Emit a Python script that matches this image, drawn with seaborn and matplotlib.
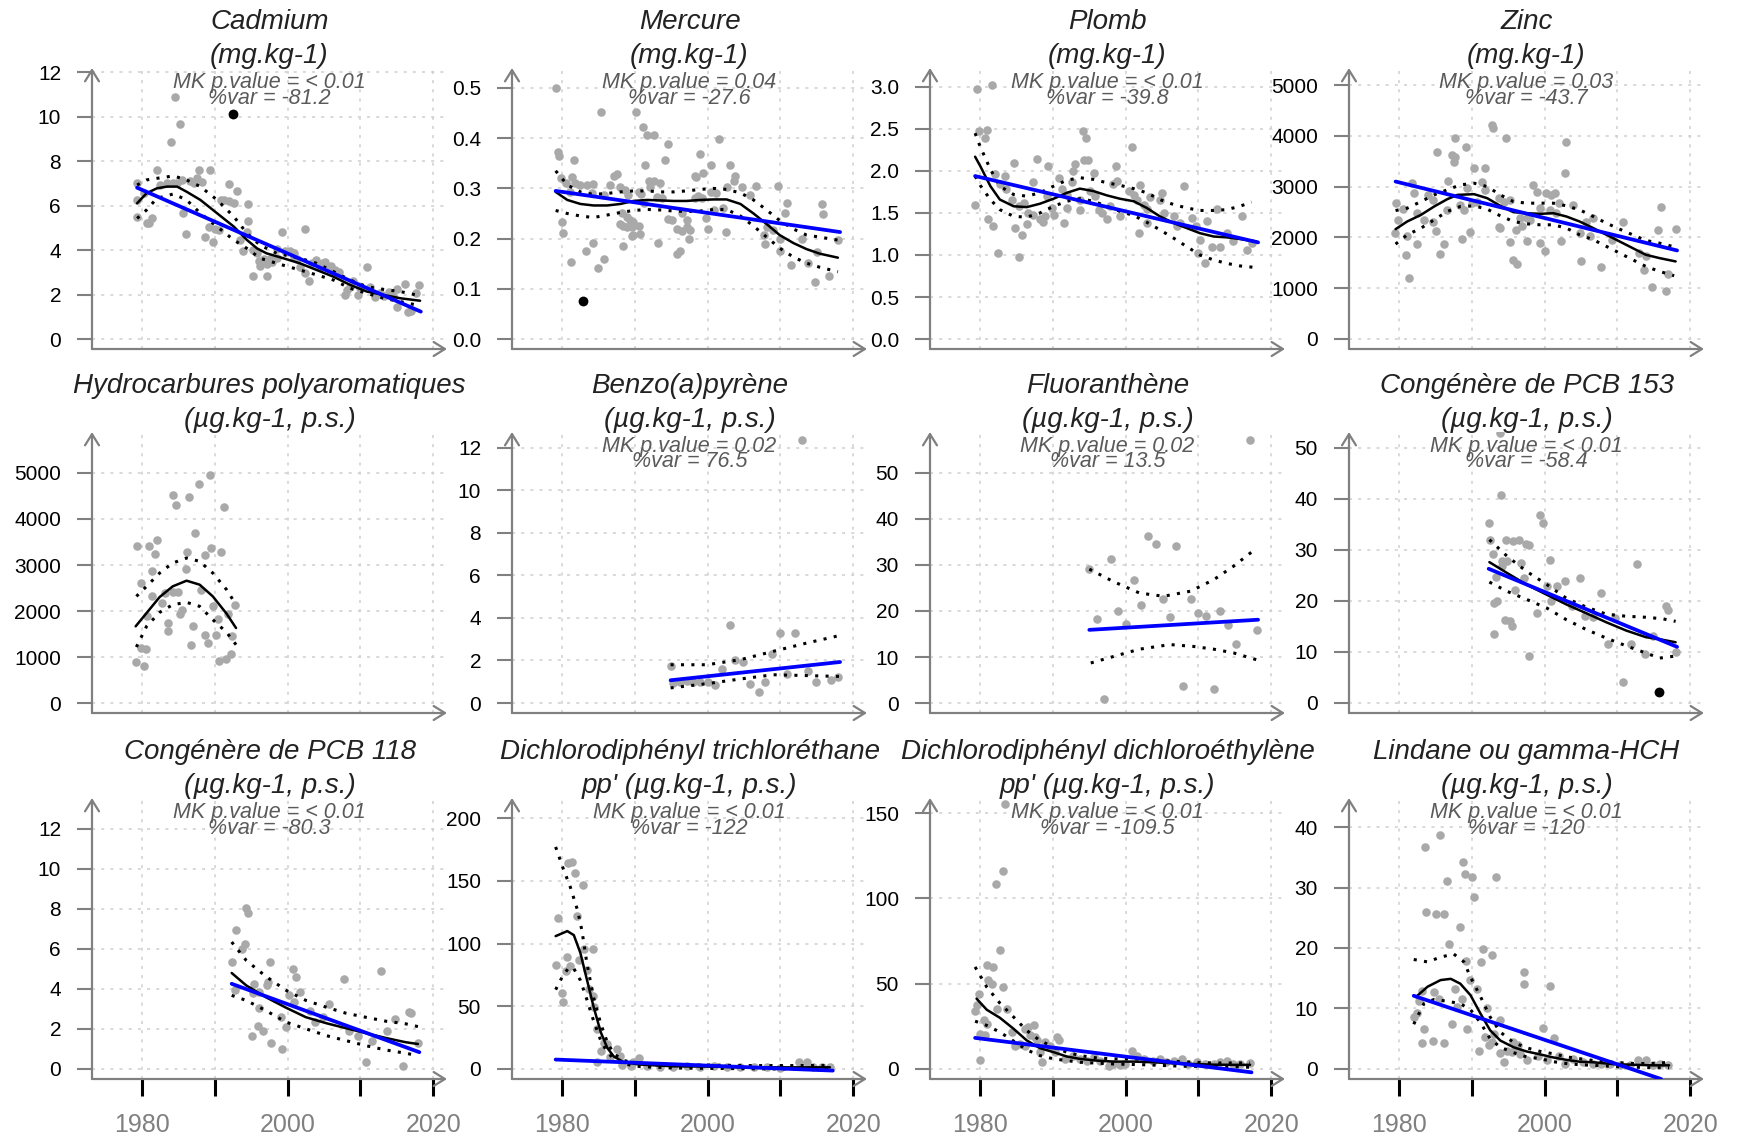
import matplotlib
matplotlib.use("Agg")
import matplotlib.pyplot as plt
import seaborn as sns

sns.set_theme(style="white")
plt.rcParams['font.family'] = ['Liberation Sans', 'DejaVu Sans']

# ---------------- DATA (year, value) ----------------
# Cadmium
cd_pts = [(1984.5,10.86),(1985.2,9.65),(1984.0,8.87),(1982.0,7.58),(1979.3,7.0),(1979.3,6.25),(1979.3,5.47),
          (1980.2,6.55),(1980.6,5.2),(1980.9,5.2),(1981.3,5.42),(1982.5,6.9),(1983.4,7.0),(1984.3,7.0),(1984.8,7.0),
          (1985.5,7.15),(1985.6,5.65),(1986.0,4.7),(1986.6,7.1),(1987.1,7.0),(1987.6,7.25),(1988.2,7.05),(1987.8,7.6),
          (1989.3,7.6),(1988.7,4.6),(1989.2,5.05),(1989.8,4.35),(1990.0,4.95),(1990.6,4.9),(1990.9,6.25),(1991.3,6.25),
          (1991.9,6.2),(1991.9,6.97),(1993.0,6.65),(1992.6,6.1),(1994.5,6.07),(1994.6,5.3),(1994.4,4.8),(1993.5,4.45),
          (1993.9,3.97),(1995.3,4.0),(1995.8,3.85),(1995.2,2.83),(1997.1,2.83),(1996.2,3.3),(1997.1,3.35),(1996.7,3.6),
          (1997.6,3.6),(1998.5,3.65),(1999.2,4.8),(1998.5,4.05),(1999.6,3.95),(2000.3,3.95),(2000.8,3.88),(2002.4,4.93),
          (2001.7,3.25),(2002.4,2.95),(2002.9,2.6),(2001.3,3.6),(2003.3,3.4),(2004.4,3.25),(2005.1,3.45),(2005.8,3.25),
          (2006.5,3.1),(2007.0,3.0),(2008.1,2.2),(2008.6,2.35),(2007.9,1.98),(2009.7,1.98),(2010.0,2.28),(2010.9,3.25),
          (2011.3,2.35),(2012.0,1.9),(2012.7,2.05),(2013.2,1.92),(2013.9,2.1),(2015.0,2.25),(2016.1,2.47),(2015.0,1.45),
          (2016.6,1.23),(2017.0,1.25),(2018.1,2.43),(2017.7,2.05),(1996.0,3.5),(1997.9,3.45),(2000.9,3.7),(2003.9,3.55),
          (2004.8,3.4),(2006.0,3.3),(2009.0,2.6),(2014.5,1.95)]
cd_out = [(1992.5,10.1)]
cd_fit = [(1979.3,6.1),(1980.6,6.55),(1982.0,6.77),(1983.4,6.85),(1984.8,6.85),(1986.1,6.62),(1988.0,6.25),(1990.3,5.65),
          (1992.6,5.05),(1994.4,4.45),(1995.8,4.07),(1997.1,3.85),(1999.4,3.63),(2001.7,3.4),(2004.0,3.1),(2006.3,2.8),
          (2008.6,2.43),(2010.9,2.13),(2013.2,1.98),(2015.5,1.83),(2018.2,1.72)]
cd_hi = [(1979.3,6.92),(1980.6,7.15),(1982.0,7.22),(1984.3,7.33),(1986.1,7.15),(1988.0,6.85),(1990.3,6.25),(1992.6,5.5),
         (1994.4,4.75),(1996.2,4.22),(1998.5,3.85),(2001.7,3.63),(2004.0,3.4),(2006.3,3.03),(2008.6,2.65),(2010.9,2.35),
         (2013.2,2.23),(2015.5,2.13),(2017.7,1.98)]
cd_lo = [(1979.3,5.42),(1980.6,5.8),(1982.0,6.32),(1984.3,6.52),(1986.1,6.25),(1988.0,5.65),(1990.3,5.05),(1992.6,4.45),
         (1994.4,4.07),(1996.2,3.63),(1998.5,3.4),(2001.7,3.1),(2004.0,2.88),(2006.3,2.65),(2008.6,2.28),(2010.9,2.05),
         (2013.2,1.83),(2015.5,1.68),(2017.7,1.53)]
cd_trend = [(1979.3,6.8),(2018.3,1.23)]

# Mercure
hg_pts = [(1979.1,0.50),(1979.4,0.373),(1979.6,0.364),(1981.6,0.356),(1985.3,0.452),(1990.1,0.452),(1991.1,0.422),
          (1991.7,0.407),(1992.6,0.407),(1994.6,0.388),(1994.2,0.356),(1991.4,0.346),(1999.0,0.368),(2001.6,0.398),
          (2000.4,0.346),(1999.3,0.33),(1998.2,0.325),(1998.4,0.322),(2003.0,0.346),(2003.8,0.325),(2003.6,0.315),
          (2004.7,0.303),(2006.7,0.305),(2009.6,0.305),(2002.6,0.303),(1979.8,0.32),(1980.5,0.31),(1981.4,0.322),
          (1981.8,0.31),(1981.1,0.293),(1982.5,0.307),(1983.4,0.307),(1984.3,0.309),(1984.1,0.29),(1985.7,0.287),
          (1987.1,0.325),(1987.5,0.328),(1986.6,0.307),(1988.0,0.302),(1988.7,0.296),(1989.1,0.287),(1990.5,0.292),
          (1990.9,0.289),(1991.9,0.315),(1992.6,0.315),(1992.1,0.302),(1993.5,0.31),(1993.0,0.283),(1993.7,0.28),
          (1991.2,0.27),(1988.2,0.25),(1988.9,0.243),(1989.3,0.237),(1989.8,0.234),(1987.9,0.23),(1988.4,0.225),
          (1988.9,0.224),(1989.6,0.224),(1990.5,0.225),(1990.7,0.21),(1989.6,0.205),(1988.4,0.186),(1989.8,0.207),
          (1994.6,0.24),(1995.1,0.237),(1996.5,0.25),(1997.2,0.237),(1997.1,0.224),(1995.8,0.22),(1996.5,0.216),
          (1997.5,0.218),(1997.4,0.2),(1995.8,0.17),(1996.2,0.176),(1993.2,0.192),(1999.7,0.242),(2000.1,0.22),
          (2000.9,0.257),(2002.1,0.26),(2002.5,0.214),(1998.3,0.28),(1998.7,0.285),(1999.2,0.28),(2001.1,0.29),
          (2000.4,0.293),(2005.8,0.287),(2007.7,0.207),(2007.9,0.19),(2008.1,0.224),(2009.9,0.176),(2010.6,0.25),
          (2010.9,0.27),(2011.5,0.148),(2012.9,0.2),(2013.8,0.151),(2014.7,0.113),(2015.0,0.174),(2015.7,0.269),
          (2015.9,0.249),(2016.7,0.126),(2017.9,0.197),(1981.2,0.154),(1983.3,0.176),(1984.2,0.192),(1984.9,0.142),
          (1985.7,0.159),(1980.0,0.234),(1980.1,0.212),(2009.0,0.217),(2009.9,0.2)]
hg_out = [(1982.8,0.076)]
hg_fit = [(1979.1,0.293),(1980.7,0.277),(1982.5,0.269),(1984.3,0.266),(1986.2,0.266),(1988.0,0.269),(1989.8,0.275),
          (1991.7,0.277),(1993.5,0.276),(1995.3,0.275),(1997.1,0.275),(1999.0,0.277),(2000.8,0.278),(2002.6,0.278),
          (2004.5,0.269),(2006.3,0.25),(2008.1,0.229),(2009.9,0.207),(2011.8,0.191),(2013.6,0.179),(2015.4,0.17),
          (2017.9,0.162)]
hg_hi = [(1979.1,0.335),(1980.7,0.307),(1982.5,0.293),(1984.3,0.288),(1986.2,0.29),(1988.0,0.293),(1989.8,0.295),
         (1991.7,0.295),(1993.5,0.293),(1995.3,0.293),(1997.1,0.295),(1999.0,0.298),(2000.8,0.3),(2002.6,0.298),
         (2004.5,0.291),(2006.3,0.277),(2008.1,0.257),(2009.9,0.236),(2011.8,0.219),(2013.6,0.207),(2015.4,0.203),
         (2017.9,0.197)]
hg_lo = [(1979.1,0.256),(1980.7,0.25),(1982.5,0.245),(1984.3,0.242),(1986.2,0.247),(1988.0,0.252),(1989.8,0.256),
         (1991.7,0.258),(1993.5,0.257),(1995.3,0.255),(1997.1,0.254),(1999.0,0.255),(2000.8,0.258),(2002.6,0.258),
         (2004.5,0.245),(2006.3,0.225),(2008.1,0.203),(2009.9,0.181),(2011.8,0.163),(2013.6,0.151),(2015.4,0.143),
         (2017.9,0.134)]
hg_trend = [(1979.1,0.295),(2018.2,0.213)]

# Plomb
pb_pts = [(1979.5,2.98),(1981.6,3.02),(1979.8,2.48),(1981.0,2.49),(1980.7,2.39),(1979.3,1.59),(1981.1,1.43),(1981.7,1.35),
          (1982.5,1.02),(1982.1,1.96),(1983.4,1.94),(1982.7,1.84),(1983.6,1.78),(1984.4,1.66),(1984.6,2.1),(1984.8,1.32),
          (1985.7,1.24),(1985.4,0.98),(1985.3,1.58),(1986.0,1.62),(1986.6,1.5),(1987.3,1.48),(1986.4,1.37),(1987.3,1.87),
          (1987.8,2.14),(1988.2,1.43),(1988.7,1.39),(1988.9,1.46),(1989.3,2.06),(1989.2,1.7),(1989.9,1.56),(1990.1,1.48),
          (1990.8,1.92),(1991.5,1.38),(1991.2,1.79),(1991.9,1.72),(1991.9,1.56),(1992.7,2.0),(1993.1,2.08),(1992.6,1.87),
          (1993.7,1.54),(1993.7,1.66),(1994.1,2.48),(1994.5,2.39),(1994.3,2.13),(1994.8,2.13),(1995.6,1.98),(1995.1,1.76),
          (1995.8,1.7),(1996.3,1.54),(1996.7,1.5),(1997.4,1.43),(1997.9,1.58),(1998.6,2.06),(1998.8,1.88),(1998.3,1.84),
          (1999.2,1.46),(2000.4,1.76),(2000.9,2.29),(2001.1,1.72),(2001.5,1.66),(2002.0,1.83),(2001.8,1.26),(2002.5,1.6),
          (2002.9,1.55),(2003.4,1.69),(2002.9,1.38),(2005.0,1.74),(2004.7,1.66),(2005.2,1.5),(2006.6,1.47),(2007.1,1.34),
          (2007.5,1.38),(2008.0,1.82),(2009.1,1.44),(2009.6,1.34),(2010.2,1.18),(2010.0,1.02),(2010.9,0.9),(2011.2,1.4),
          (2011.8,1.1),(2013.0,1.1),(2012.6,1.55),(2013.9,1.26),(2014.8,1.17),(2016.0,1.47),(2016.7,1.06),(2017.3,1.14)]
pb_out = []
pb_fit = [(1979.3,2.17),(1980.0,2.06),(1981.4,1.82),(1982.7,1.66),(1984.6,1.58),(1986.4,1.57),(1988.2,1.61),(1990.1,1.67),
          (1991.9,1.74),(1993.7,1.79),(1995.6,1.76),(1997.4,1.71),(1999.2,1.67),(2001.1,1.64),(2002.9,1.56),(2004.7,1.46),
          (2006.6,1.38),(2008.4,1.32),(2010.2,1.26),(2012.1,1.22),(2013.9,1.21),(2015.7,1.19),(2018.0,1.16)]
pb_hi = [(1979.3,2.45),(1980.0,2.29),(1981.4,2.02),(1982.7,1.82),(1984.6,1.72),(1986.4,1.7),(1988.2,1.74),(1990.1,1.82),
         (1991.9,1.89),(1993.7,1.92),(1995.6,1.9),(1997.4,1.86),(1999.2,1.83),(2001.1,1.79),(2002.9,1.74),(2004.7,1.66),
         (2006.6,1.6),(2008.4,1.56),(2010.2,1.53),(2012.1,1.53),(2013.9,1.54),(2015.7,1.58),(2017.3,1.63)]
pb_lo = [(1979.3,1.94),(1980.0,1.83),(1981.4,1.66),(1982.7,1.54),(1984.6,1.46),(1986.4,1.45),(1988.2,1.5),(1990.1,1.58),
         (1991.9,1.64),(1993.7,1.67),(1995.6,1.64),(1997.4,1.58),(1999.2,1.52),(2001.1,1.47),(2002.9,1.39),(2004.7,1.3),
         (2006.6,1.2),(2008.4,1.1),(2010.2,1.0),(2012.1,0.94),(2013.9,0.9),(2015.7,0.87),(2018.0,0.85)]
pb_trend = [(1979.3,1.94),(2018.2,1.15)]

# Zinc
zn_pts = [(1979.5,2674),(1979.8,2333),(1979.4,2084),(1980.9,1645),(1981.4,1199),(1980.5,2556),(1981.8,3067),(1982.0,2883),
          (1981.1,2018),(1982.5,1874),(1982.5,2477),(1983.4,2346),(1983.9,2837),(1984.6,2739),(1984.7,2294),(1985.0,2117),
          (1985.2,3689),(1985.6,1678),(1986.2,1868),(1986.7,3113),(1986.6,2543),(1987.3,3624),(1987.7,3580),(1987.5,3493),
          (1987.7,3965),(1988.4,2641),(1988.9,2543),(1988.6,1966),(1989.2,3775),(1989.8,2097),(1990.3,3362),(1991.8,3375),
          (1989.3,2969),(1990.0,2674),(1990.7,2706),(1991.4,3100),(1991.8,2936),(1992.9,4148),(1992.8,4214),(1994.7,3951),
          (1993.7,2772),(1993.7,2214),(1993.9,2182),(1994.4,2706),(1995.3,2739),(1995.2,1900),(1995.7,1560),(1996.2,1481),
          (1996.0,2149),(1996.6,2379),(1996.9,2215),(1997.5,2379),(1998.0,2346),(1997.5,1920),(1998.4,3034),(1998.9,2903),
          (1999.3,1887),(2000.0,1723),(1999.4,2575),(2000.2,2870),(2000.9,2830),(2001.4,2883),(2001.9,2674),(2000.7,2543),
          (2001.6,2477),(2002.3,1920),(2002.9,3886),(2002.8,3263),(2003.9,2641),(2004.8,2084),(2005.0,1527),(2005.7,2313),
          (2006.7,2379),(2006.2,2018),(2007.7,1409),(2009.2,1953),(2010.8,2313),(2013.0,1691),(2013.9,1625),(2013.7,1363),
          (2014.8,1022),(2016.0,2595),(2015.6,2136),(2016.7,950),(2016.9,1284),(2018.0,2162)]
zn_out = []
zn_fit = [(1979.5,2162),(1981.1,2313),(1983.0,2444),(1984.8,2608),(1986.6,2752),(1988.0,2837),(1990.3,2851),(1992.1,2772),
          (1993.9,2621),(1995.7,2497),(1997.5,2477),(1999.4,2464),(2001.2,2477),(2003.0,2411),(2004.8,2313),(2006.7,2182),
          (2008.5,2051),(2010.3,1920),(2012.1,1789),(2013.9,1658),(2015.8,1592),(2018.0,1527)]
zn_hi = [(1979.5,2529),(1981.1,2575),(1983.0,2706),(1984.8,2837),(1986.6,2936),(1988.4,3034),(1990.3,3067),(1992.1,3001),
         (1993.9,2837),(1995.7,2706),(1997.5,2674),(1999.4,2674),(2001.2,2674),(2003.0,2621),(2004.8,2543),(2006.7,2411),
         (2008.5,2280),(2010.3,2162),(2012.1,2051),(2013.9,1940),(2015.8,1887),(2017.6,1822)]
zn_lo = [(1979.5,1868),(1981.1,2051),(1983.0,2182),(1984.8,2346),(1986.6,2510),(1988.4,2608),(1990.3,2621),(1992.1,2556),
         (1993.9,2425),(1995.7,2313),(1997.5,2267),(1999.4,2248),(2001.2,2248),(2003.0,2182),(2004.8,2051),(2006.7,1953),
         (2008.5,1822),(2010.3,1691),(2012.1,1560),(2013.9,1429),(2015.8,1330),(2017.8,1245)]
zn_trend = [(1979.5,3100),(2018.2,1743)]

# Hydrocarbures polyaromatiques
hap_pts = [(1979.2,884),(1980.2,812),(1979.3,3406),(1980.9,3406),(1982.0,3551),(1981.7,3246),(1979.8,2609),(1981.3,2862),
           (1981.4,2333),(1980.6,1884),(1979.9,1196),(1980.5,1174),(1982.7,2174),(1983.2,2391),(1983.6,1739),(1983.5,1558),
           (1984.2,4529),(1984.7,4311),(1984.2,2413),(1984.9,2413),(1985.2,1935),(1985.5,2029),(1986.0,2913),(1986.2,3275),
           (1986.5,4478),(1986.7,1254),(1987.0,1667),(1987.2,3696),(1987.8,4768),(1988.1,2464),(1988.6,3225),(1988.7,1485),
           (1989.0,1304),(1989.3,4964),(1989.4,3369),(1989.7,2116),(1990.2,1485),(1990.4,1826),(1990.9,3275),(1991.2,4261),
           (1990.6,906),(1991.5,957),(1991.8,1942),(1992.3,1449),(1992.2,1065),(1992.8,2138)]
hap_out = []
hap_fit = [(1979.1,1667),(1980.6,1956),(1982.4,2304),(1984.2,2536),(1986.1,2659),(1987.9,2572),(1989.7,2319),(1991.6,1942),
           (1992.9,1630)]
hap_hi = [(1979.2,2319),(1980.6,2536),(1982.4,2826),(1984.2,3043),(1986.1,3152),(1987.9,3079),(1989.7,2826),(1991.6,2464),
          (1992.9,2138)]
hap_lo = [(1979.2,1217),(1980.6,1667),(1982.4,1971),(1984.2,2138),(1986.1,2188),(1987.9,2101),(1989.7,1812),(1991.6,1536),
          (1992.9,1268)]
hap_trend = []

# Benzo(a)pyrene
bap_pts = [(2013.0,12.36),(2003.0,3.69),(1994.9,1.76),(1995.3,0.94),(1996.2,1.0),(1997.1,1.02),(1998.0,1.0),(1999.0,0.98),
           (2000.1,0.97),(2001.0,0.86),(2001.9,1.6),(2003.8,2.04),(2004.9,1.91),(2005.8,0.91),(2007.0,0.5),(2007.9,0.97),
           (2008.9,2.3),(2009.9,3.29),(2012.0,3.29),(2010.9,1.38),(2013.8,1.49),(2014.9,0.97),(2016.9,1.07),(2017.9,1.21)]
bap_out = []
bap_fit = []
bap_hi = [(1994.9,1.8),(1999.9,1.8),(2004.5,2.04),(2009.0,2.43),(2013.6,2.82),(2018.2,3.18)]
bap_lo = [(1994.9,0.71),(1999.9,0.91),(2004.5,1.13),(2009.0,1.33),(2013.6,1.29),(2018.2,1.25)]
bap_trend = [(1994.9,1.07),(2018.2,1.93)]

# Fluoranthene
flu_pts = [(2017.1,57.1),(1995.0,29.1),(1996.1,18.3),(1997.0,0.9),(1998.0,31.3),(1998.9,20.1),(2000.0,17.2),(2001.1,26.8),
           (2002.1,21.4),(2003.0,36.4),(2004.1,34.6),(2005.1,22.7),(2006.1,18.8),(2006.9,34.1),(2007.9,3.6),(2009.0,22.5),
           (2010.0,19.6),(2011.1,19.0),(2012.1,3.1),(2013.0,20.1),(2014.1,17.0),(2015.1,12.8),(2018.0,15.8)]
flu_out = []
flu_fit = []
flu_hi = [(1995.0,29.1),(1998.3,26.4),(2001.9,23.9),(2005.2,23.2),(2008.9,24.3),(2012.1,26.8),(2014.8,29.7),(2017.3,32.8)]
flu_lo = [(1995.2,8.7),(1998.3,10.1),(2001.9,11.7),(2006.1,12.7),(2009.3,12.3),(2012.1,11.7),(2014.8,10.9),(2018.0,9.4)]
flu_trend = [(1995.0,15.9),(2018.2,18.1)]

# PCB 153
p153_pts = [(1993.9,52.9),(1994.0,40.7),(1992.3,35.3),(1992.5,32.0),(1994.7,32.0),(1995.7,31.8),(1996.5,31.9),(1997.4,31.2),
            (1997.8,31.0),(1999.3,36.9),(1999.8,35.2),(1992.9,29.1),(1994.2,27.8),(1994.8,27.8),(1993.3,24.7),(1994.2,26.8),
            (1996.7,27.5),(1995.9,22.2),(1997.1,24.5),(2000.7,28.0),(1993.0,19.6),(1993.4,19.9),(1993.0,13.5),(1994.6,16.3),
            (1995.3,16.1),(1995.5,15.0),(1997.8,9.3),(1999.0,17.6),(2000.3,23.0),(2001.7,23.0),(2000.8,19.9),(2002.8,23.9),
            (2004.8,24.4),(2003.7,19.0),(2005.6,17.1),(2006.7,16.9),(2007.7,21.6),(2008.7,11.6),(2009.6,16.7),(2010.7,4.1),
            (2011.8,11.6),(2012.7,27.3),(2013.8,9.6),(2014.9,13.2),(2016.7,19.1),(2017.0,18.2),(2018.0,9.9)]
p153_out = [(2015.7,2.1)]
p153_fit = [(1992.4,27.6),(1994.8,25.5),(1997.5,23.2),(2000.3,21.2),(2003.0,19.3),(2005.7,17.6),(2008.5,15.8),(2011.2,14.2),
            (2013.9,12.9),(2015.8,12.5),(2018.0,11.9)]
p153_hi = [(1992.4,32.0),(1994.8,28.8),(1997.5,25.8),(2000.3,23.2),(2003.0,20.5),(2005.7,18.8),(2008.5,17.4),(2011.2,17.0),
           (2013.9,16.8),(2016.2,16.5),(2018.0,16.0)]
p153_lo = [(1992.4,23.7),(1994.8,21.9),(1997.5,20.3),(2000.3,18.6),(2003.0,16.3),(2005.7,14.4),(2008.5,12.7),(2011.2,11.2),
           (2013.9,9.8),(2015.8,8.8),(2018.0,9.2)]
p153_trend = [(1992.3,26.3),(2018.2,11.0)]

# PCB 118
p118_pts = [(1994.3,8.06),(1994.5,7.8),(1992.9,6.94),(1994.1,6.27),(1993.7,6.0),(1992.3,5.35),(1997.5,5.35),(2000.7,5.01),
            (2001.2,4.6),(1995.4,4.26),(1997.1,4.2),(1997.3,4.35),(1995.2,3.8),(1996.1,3.85),(1992.7,3.93),(1996.1,3.06),
            (1995.9,2.14),(1996.6,1.92),(1995.1,1.67),(1997.7,1.3),(1999.1,2.59),(1999.2,1.0),(1999.7,2.09),(2000.2,3.68),
            (2000.9,3.34),(2001.7,3.84),(2003.0,2.92),(2003.8,2.34),(2004.8,2.59),(2005.7,3.23),(2007.8,4.51),(2008.4,1.92),
            (2009.6,1.67),(2010.7,0.37),(2011.6,1.42),(2012.8,4.9),(2013.7,1.92),(2014.7,2.5),(2015.8,0.17),(2016.7,2.84),
            (2017.0,2.79),(2017.9,1.3)]
p118_out = []
p118_fit = [(1992.3,4.8),(1994.3,4.18),(1997.0,3.59),(1999.8,3.06),(2002.5,2.59),(2005.3,2.29),(2008.0,2.04),(2010.7,1.8),
            (2013.5,1.55),(2016.2,1.34),(2017.9,1.25)]
p118_hi = [(1992.3,6.35),(1994.3,5.43),(1997.0,4.63),(1999.8,3.93),(2002.5,3.43),(2005.3,3.09),(2008.0,2.79),(2010.7,2.59),
           (2013.5,2.39),(2016.2,2.26),(2017.9,2.12)]
p118_lo = [(1992.3,3.68),(1994.3,3.43),(1997.0,2.92),(1999.8,2.34),(2002.5,2.01),(2005.3,1.67),(2008.0,1.42),(2010.7,1.17),
           (2013.5,0.95),(2016.2,0.79),(2017.9,0.67)]
p118_trend = [(1992.3,4.26),(2018.1,0.84)]

# DDT
ddt_pts = [(1979.1,83.2),(1979.4,120),(1980.0,60.5),(1980.1,53.3),(1980.6,89.3),(1980.8,164),(1981.4,165),(1981.1,81.9),
           (1980.5,78),(1981.8,156.5),(1982.1,122),(1982.8,146.7),(1982.3,86.7),(1983.0,96),(1984.2,96),(1983.4,78.7),
           (1983.7,64),(1984.3,58.1),(1984.4,49.3),(1984.8,32),(1985.7,20.8),(1986.2,20),(1985.3,14.7),(1984.8,5.9),
           (1986.6,9.3),(1987.5,16),(1988.0,10.7),(1988.2,3.2),(1989.4,2.7),(1990.6,8.8),(1989.8,5.3),(1991.7,2.7),
           (1993.5,1.3),(1995.3,1.3),(1997.1,2.7),(1999.0,1.9),(2000.8,2.7),(2002.6,1.3),(2004.5,1.3),(2006.3,1.3),
           (2008.1,1.3),(2009.9,0.8),(2012.5,5.9),(2013.6,5.9),(2014.5,1.9),(2015.7,1.9),(2016.8,1.3)]
ddt_out = []
ddt_fit = [(1979.1,105.9),(1980.7,109.9),(1981.6,106.7),(1982.5,92.5),(1983.4,71.2),(1984.3,49.9),(1985.3,29.3),(1986.2,16.8),
           (1987.1,9.9),(1988.5,5.3),(1990.7,3.5),(1995.3,2.1),(1999.9,1.9),(2004.5,1.3),(2009.0,1.3),(2013.6,1.3),(2016.8,1.3)]
ddt_hi = [(1979.1,177),(1980.2,158.7),(1981.1,145.3),(1982.1,126.7),(1982.7,110.7),(1983.4,84),(1984.3,57.3),(1985.3,36),
          (1986.2,21.3),(1987.1,12),(1988.5,6.7),(1990.7,4),(1995.3,2.7),(1999.9,3.2),(2004.5,2.7),(2009.0,2.7),
          (2013.6,2.7),(2016.8,2.7)]
ddt_lo = [(1979.1,63.2),(1980.0,73.3),(1980.9,80.8),(1981.6,80),(1982.5,70.7),(1983.4,55.2),(1984.3,38.7),(1985.3,22.7),
          (1986.2,13.3),(1987.1,8),(1988.5,4),(1990.7,1.9),(1995.3,0.8),(1999.9,0.5),(2009.0,0.0),(2016.8,0.0)]
ddt_trend = [(1979.1,7.5),(2017.2,-1.3)]

# DDE
dde_pts = [(1983.4,155.5),(1983.1,116.3),(1982.2,108.4),(1982.7,69.6),(1981.0,60.8),(1981.7,59.8),(1981.1,52.4),(1981.6,50),
           (1983.2,48),(1979.8,44.1),(1979.3,33.7),(1979.5,37.3),(1982.3,35.3),(1983.7,35.3),(1980.5,28.4),(1980.9,26.5),
           (1980.0,20.2),(1980.7,19.6),(1980.0,5.3),(1984.4,21.6),(1984.8,13.7),(1985.5,14.7),(1986.2,13.7),(1986.2,23.5),
           (1986.6,24.5),(1987.4,25.5),(1986.9,19.6),(1987.6,18.6),(1987.8,16.7),(1988.2,9.8),(1988.5,3.9),(1988.9,15.7),
           (1989.6,13.7),(1990.5,18.6),(1990.8,16.7),(1990.3,9.8),(1991.7,5.9),(1992.8,7.8),(1993.7,5.9),(1994.7,4.9),
           (1995.6,6.9),(1996.5,4.9),(1997.7,2.0),(1998.3,2.9),(1999.2,2.4),(1999.9,2.9),(2000.8,10.4),(2001.5,7.8),
           (2002.5,5.9),(2003.8,4.9),(2004.7,5.9),(2005.6,3.9),(2006.6,4.9),(2007.7,5.9),(2008.6,2.9),(2009.8,3.9),
           (2010.9,2.9),(2012.1,2.9),(2013.0,3.9),(2013.9,4.9),(2014.8,2.9),(2015.7,2.9),(2017.1,3.3)]
dde_out = []
dde_fit = [(1979.5,41.2),(1980.9,34.7),(1982.7,30),(1984.6,23.5),(1986.4,16.7),(1988.2,12.2),(1990.1,9.8),(1991.9,7.3),
           (1993.7,5.9),(1996.0,4.9),(1998.3,4.3),(2001.1,4.3),(2003.8,3.9),(2006.6,3.3),(2009.3,2.9),(2012.1,2.5),
           (2014.8,2.4),(2017.1,2.4)]
dde_hi = [(1979.3,59.8),(1980.9,48),(1982.7,38.6),(1984.6,30.4),(1986.4,22.5),(1988.2,16.7),(1990.1,12.7),(1991.9,9.8),
          (1993.7,7.8),(1996.0,6.5),(1998.3,5.9),(2001.1,5.9),(2003.8,5.3),(2006.6,4.5),(2009.3,3.9),(2012.1,3.5),
          (2014.8,3.5),(2017.1,3.5)]
dde_lo = [(1979.3,28),(1980.9,25.5),(1982.7,21.6),(1984.6,16.3),(1986.4,11.2),(1988.2,7.8),(1990.1,5.9),(1991.9,4.9),
          (1993.7,3.9),(1998.3,2.9),(2002.9,2.4),(2007.5,1.6),(2012.1,1.4),(2017.1,1.0)]
dde_trend = [(1979.3,18.2),(2017.3,-2.0)]

# Lindane
lin_pts = [(1983.6,36.7),(1985.6,38.6),(1983.7,26),(1985.1,25.6),(1986.2,25.6),(1986.6,31),(1988.8,34.2),(1989.0,32.3),
           (1990.0,31.8),(1990.3,28.5),(1993.3,31.8),(1988.3,23.4),(1986.8,20.6),(1991.5,19.9),(1992.8,18.9),(1989.2,17.9),
           (1991.3,17.7),(1997.1,16.0),(1997.2,14.0),(2000.7,13.7),(1982.0,8.6),(1982.5,9.2),(1982.7,11.3),(1983.2,12.9),
           (1983.4,6.6),(1983.1,4.3),(1984.6,4.7),(1986.2,4.3),(1984.8,12.7),(1985.5,11.6),(1987.3,7.5),(1987.7,13.3),
           (1988.0,10.3),(1988.7,11.6),(1989.3,6.6),(1989.8,14.7),(1990.7,13.3),(1991.0,2.9),(1991.8,5.3),(1992.1,10.0),
           (1992.3,3.9),(1992.8,4.4),(1993.0,5.8),(1993.9,8.1),(1993.9,2.6),(1994.4,1.1),(1994.8,3.0),(1995.5,2.8),
           (1996.2,3.1),(1996.6,2.5),(1995.7,4.4),(1996.4,3.9),(1997.5,1.5),(1999.1,2.2),(1999.7,6.7),(2000.3,1.4),
           (2001.3,5.1),(2001.9,2.2),(2002.8,0.8),(2003.9,1.7),(2005.3,1.1),(2006.7,0.8),(2007.8,0.8),(2009.0,0.9),
           (2010.3,0.7),(2011.7,0.7),(2012.8,1.5),(2013.9,1.5),(2014.9,0.7),(2015.8,0.8),(2016.9,0.7)]
lin_out = []
lin_fit = [(1982.3,11.9),(1983.9,13.6),(1985.7,14.7),(1987.1,14.9),(1988.4,14.1),(1989.8,12.2),(1991.2,9.1),(1992.5,6.4),
           (1993.9,4.7),(1995.7,3.6),(1997.5,2.9),(1999.4,2.4),(2001.2,1.9),(2003.0,1.5),(2004.8,1.2),(2006.7,1.1),
           (2009.4,0.8),(2012.1,0.7),(2014.9,0.6),(2017.1,0.6)]
lin_hi = [(1982.0,18.1),(1983.9,17.7),(1985.7,18.5),(1987.5,19.0),(1988.9,17.7),(1989.8,15.2),(1991.2,11.9),(1992.5,8.6),
          (1993.9,6.1),(1995.7,4.4),(1997.5,3.5),(1999.4,2.9),(2001.2,2.5),(2003.0,2.0),(2004.8,1.7),(2006.7,1.4),
          (2009.4,1.1),(2012.1,0.9),(2014.9,0.9),(2017.1,1.1)]
lin_lo = [(1982.0,7.4),(1983.4,10.8),(1984.8,11.5),(1986.6,11.2),(1988.4,10.8),(1989.8,9.8),(1991.2,7.6),(1992.5,5.0),
          (1993.9,3.6),(1995.7,2.7),(1997.5,2.0),(1999.4,1.7),(2001.2,1.2),(2003.0,0.9),(2004.8,0.7),(2006.7,0.6),
          (2009.4,0.4),(2012.1,0.3),(2014.9,0.2),(2017.1,0.2)]
lin_trend = [(1982.0,12.1),(2016.0,-1.66)]

titles = [("Cadmium", "(mg.kg-1)"), ("Mercure", "(mg.kg-1)"), ("Plomb", "(mg.kg-1)"), ("Zinc", "(mg.kg-1)"),
          ("Hydrocarbures polyaromatiques", "(µg.kg-1, p.s.)"), ("Benzo(a)pyrène", "(µg.kg-1, p.s.)"),
          ("Fluoranthène", "(µg.kg-1, p.s.)"), ("Congénère de PCB 153", "(µg.kg-1, p.s.)"),
          ("Congénère de PCB 118", "(µg.kg-1, p.s.)"), ("Dichlorodiphényl trichloréthane", "pp' (µg.kg-1, p.s.)"),
          ("Dichlorodiphényl dichloroéthylène", "pp' (µg.kg-1, p.s.)"), ("Lindane ou gamma-HCH", "(µg.kg-1, p.s.)")]
mk_pvalues = ["< 0.01", "0.04", "< 0.01", "0.03", None, "0.02", "0.02", "< 0.01", "< 0.01", "< 0.01", "< 0.01", "< 0.01"]
mk_var = ["-81.2", "-27.6", "-39.8", "-43.7", None, "76.5", "13.5", "-58.4", "-80.3", "-122", "-109.5", "-120"]
yticks = [[0, 2, 4, 6, 8, 10, 12], [0.0, 0.1, 0.2, 0.3, 0.4, 0.5], [0.0, 0.5, 1.0, 1.5, 2.0, 2.5, 3.0],
          [0, 1000, 2000, 3000, 4000, 5000], [0, 1000, 2000, 3000, 4000, 5000], [0, 2, 4, 6, 8, 10, 12],
          [0, 10, 20, 30, 40, 50], [0, 10, 20, 30, 40, 50], [0, 2, 4, 6, 8, 10, 12],
          [0, 50, 100, 150, 200], [0, 50, 100, 150], [0, 10, 20, 30, 40]]
year_ticks = [1980, 1990, 2000, 2010, 2020]
year_labels = ["1980", "", "2000", "", "2020"]

series = [(cd_pts, cd_out, cd_fit, cd_hi, cd_lo, cd_trend), (hg_pts, hg_out, hg_fit, hg_hi, hg_lo, hg_trend),
          (pb_pts, pb_out, pb_fit, pb_hi, pb_lo, pb_trend), (zn_pts, zn_out, zn_fit, zn_hi, zn_lo, zn_trend),
          (hap_pts, hap_out, hap_fit, hap_hi, hap_lo, hap_trend), (bap_pts, bap_out, bap_fit, bap_hi, bap_lo, bap_trend),
          (flu_pts, flu_out, flu_fit, flu_hi, flu_lo, flu_trend),
          (p153_pts, p153_out, p153_fit, p153_hi, p153_lo, p153_trend),
          (p118_pts, p118_out, p118_fit, p118_hi, p118_lo, p118_trend),
          (ddt_pts, ddt_out, ddt_fit, ddt_hi, ddt_lo, ddt_trend), (dde_pts, dde_out, dde_fit, dde_hi, dde_lo, dde_trend),
          (lin_pts, lin_out, lin_fit, lin_hi, lin_lo, lin_trend)]

# ---------------- LAYOUT / STYLE ----------------
W, H = 1738, 1141
col_left = [92, 512, 930, 1349]
row_top = [68, 432, 798]
ax_w, ax_h = 355, 281
xlim = (1973.1, 2021.9)
ylims = [(-0.449, 12.18), (-0.0199, 0.5398), (-0.119, 3.226), (-197, 5335),
         (-217, 5891), (-0.47, 12.75), (-2.17, 58.9), (-1.96, 53.1),
         (-0.50, 13.55), (-8, 216), (-5.9, 158.8), (-1.66, 44.8)]
yfmt = ["{:.0f}", "{:.1f}", "{:.1f}", "{:.0f}", "{:.0f}", "{:.0f}", "{:.0f}", "{:.0f}",
        "{:.0f}", "{:.0f}", "{:.0f}", "{:.0f}"]

AXIS_GRAY = "#808080"
PT_GRAY = "#A9A9A9"
GRID = "#D0D0D0"
DOT = (0, (1, 2.4))
PX = 0.72  # points per pixel at dpi 100


def xy(pairs):
    return [p[0] for p in pairs], [p[1] for p in pairs]


fig = plt.figure(figsize=(W / 100, H / 100), dpi=100)

for i in range(12):
    r, c = divmod(i, 4)
    left = col_left[c]
    top = row_top[r]
    ax = fig.add_axes([left / W, (H - top - ax_h) / H, ax_w / W, ax_h / H])
    pts, out, fit, hi, lo, trend = series[i]

    px, py = xy(pts)
    sns.scatterplot(x=px, y=py, ax=ax, color=PT_GRAY, s=38, linewidth=0, zorder=2)
    if out:
        ox, oy = xy(out)
        sns.scatterplot(x=ox, y=oy, ax=ax, color="black", s=50, linewidth=0, zorder=2.5)
    for band in (hi, lo):
        if band:
            bx, by = xy(band)
            sns.lineplot(x=bx, y=by, ax=ax, color="black", linewidth=2.2, linestyle=DOT,
                         estimator=None, sort=False, zorder=3)
    if fit:
        fx, fy = xy(fit)
        sns.lineplot(x=fx, y=fy, ax=ax, color="black", linewidth=1.8,
                     estimator=None, sort=False, zorder=3)
    if trend:
        tx, ty = xy(trend)
        sns.lineplot(x=tx, y=ty, ax=ax, color="#0000FF", linewidth=2.7,
                     estimator=None, sort=False, zorder=4)

    ax.set_xlim(*xlim)
    ax.set_ylim(*ylims[i])
    ax.set_xlabel("")
    ax.set_ylabel("")
    ax.set_facecolor("white")
    for s in ax.spines.values():
        s.set_visible(False)

    ax.set_yticks(yticks[i])
    ax.set_yticklabels([yfmt[i].format(v) for v in yticks[i]])
    ax.tick_params(axis="y", length=10.8, width=1.5, color=AXIS_GRAY, pad=11.5,
                   labelsize=15, labelcolor="black", left=True)
    ax.set_xticks(year_ticks)
    if r == 2:
        ax.set_xticklabels(year_labels)
        ax.tick_params(axis="x", length=12.2, width=2.2, color="black", pad=12.5,
                       labelsize=18, labelcolor=AXIS_GRAY, bottom=True)
    else:
        ax.tick_params(axis="x", length=0, labelbottom=False)
    ax.grid(True, color=GRID, linestyle=(0, (2, 4)), linewidth=1.1)
    ax.set_axisbelow(True)

    arrow = dict(arrowstyle="->,head_length=0.45,head_width=0.28", color=AXIS_GRAY, lw=1.6,
                 shrinkA=0, shrinkB=0, mutation_scale=18)
    ax.annotate("", xy=(0, 1), xytext=(0, 0), xycoords="axes fraction", arrowprops=arrow,
                annotation_clip=False)
    ax.annotate("", xy=(1, 0), xytext=(0, 0), xycoords="axes fraction", arrowprops=arrow,
                annotation_clip=False)

    t1, t2 = titles[i]
    ax.annotate(t1, xy=(0.5, 1), xycoords="axes fraction", xytext=(0, 39 * PX), textcoords="offset points",
                ha="center", va="baseline", fontsize=20, style="italic", color="#222222", annotation_clip=False)
    ax.annotate(t2, xy=(0.5, 1), xycoords="axes fraction", xytext=(0, 5 * PX), textcoords="offset points",
                ha="center", va="baseline", fontsize=20, style="italic", color="#222222", annotation_clip=False)
    if mk_pvalues[i] is not None:
        ax.annotate("MK p.value = " + mk_pvalues[i], xy=(0.5, 1), xycoords="axes fraction",
                    xytext=(0, -20 * PX), textcoords="offset points", ha="center", va="baseline",
                    fontsize=15.5, style="italic", color="#5a5a5a", zorder=6)
        ax.annotate("%var = " + mk_var[i], xy=(0.5, 1), xycoords="axes fraction",
                    xytext=(0, -35.5 * PX), textcoords="offset points", ha="center", va="baseline",
                    fontsize=15.5, style="italic", color="#5a5a5a", zorder=6)

fig.savefig("out.png", dpi=100, facecolor="white")
